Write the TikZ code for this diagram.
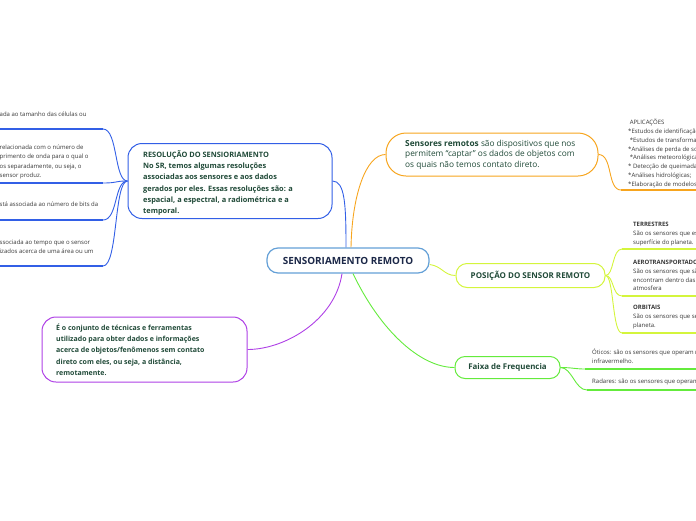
\documentclass[tikz,border=0pt]{standalone}
\usepackage{fontspec}
\setmainfont{Open Sans}
\usetikzlibrary{calc}
\definecolor{tg}{RGB}{32,74,56}
\definecolor{navy}{RGB}{28,40,72}
\definecolor{cblue}{RGB}{50,95,230}
\definecolor{corange}{RGB}{247,165,30}
\definecolor{cyg}{RGB}{212,245,60}
\definecolor{cgreen}{RGB}{100,235,60}
\definecolor{cpurple}{RGB}{175,65,230}
\definecolor{cls}{RGB}{100,160,215}
\definecolor{sm}{RGB}{55,55,55}
\tikzset{
  boxnode/.style={draw=#1, line width=1pt, fill=white, inner sep=0pt},
  bigtxt/.style={anchor=west, inner sep=0pt, align=left, text=tg, font=\fontsize{7.0}{11.3}\selectfont\bfseries},
  smalltxt/.style={anchor=west, inner sep=0pt, align=left, text=sm, font=\fontsize{6.0}{8.8}\selectfont},
  underl/.style={draw=#1, line width=1.8pt},
  conn/.style={draw=#1, line width=0.9pt}
}
\begin{document}
\begin{tikzpicture}[x=1pt,y=-1pt]
\useasboundingbox (0,0) rectangle (696,520);
\clip (0,0) rectangle (696,520);

% central
\node[boxnode=cls, line width=1.2pt, rounded corners=11pt, minimum width=162pt, minimum height=25pt,
      font=\fontsize{9.9}{10}\selectfont\bfseries, text=navy] (root) at (348,260.5) {SENSORIAMENTO REMOTO};

% blue box
\node[boxnode=cblue, rounded corners=14pt, minimum width=204pt, minimum height=75pt] (bres) at (230,181) {};
\node[bigtxt, font=\fontsize{7.4}{11.3}\selectfont\bfseries] (tres) at (143,183) {RESOLUÇÃO DO SENSIORIAMENTO\\No SR, temos algumas resoluções\\associadas aos sensores e aos dados\\gerados por eles. Essas resoluções são: a\\espacial, a espectral, a radiométrica e a\\temporal.};

% orange pill
\node[boxnode=corange, rounded corners=20pt, minimum width=212pt, minimum height=43pt] (bor) at (492,154.5) {};
\node[anchor=west, inner sep=0pt, align=left, text=tg, font=\fontsize{8.3}{10.6}\selectfont] (tor) at (405,154.5)
  {\textbf{Sensores remotos} são dispositivos que nos\\permitem “captar” os dados de objetos com\\os quais não temos contato direto.};

% purple box
\node[boxnode=cpurple, rounded corners=14pt, minimum width=205pt, minimum height=65pt] (bpur) at (144.5,349.5) {};
\node[bigtxt] (tpur) at (56,349.5) {É o conjunto de técnicas e ferramentas\\utilizado para obter dados e informações\\acerca de objetos/fenômenos sem contato\\direto com eles, ou seja, a distância,\\remotamente.};

% posição
\node[boxnode=cyg, rounded corners=11pt, minimum width=149pt, minimum height=24pt,
      font=\fontsize{8.0}{9}\selectfont\bfseries, text=tg] (bpos) at (530.5,275.5) {POSIÇÃO DO SENSOR REMOTO};

% faixa
\node[boxnode=cgreen, rounded corners=10pt, minimum width=105pt, minimum height=22pt,
      font=\fontsize{7.9}{9}\selectfont\bfseries, text=tg] (bfx) at (507.5,367.5) {Faixa de Frequencia};

% main connectors
\draw[conn=cblue] ($(root.north)+(-2,0)$) .. controls (346,205) and (345,181) .. (bres.east);
\draw[conn=corange] ($(root.north)+(3,0)$) .. controls (352,195) and (366,154.5) .. (bor.west);
\draw[conn=cpurple] ($(root.south)+(-6,0)$) .. controls (335,320) and (285,349.5) .. (bpur.east);
\draw[conn=cgreen] ($(root.south)+(5,0)$) .. controls (380,330) and (420,367.5) .. (bfx.west);
\draw[conn=cyg] ($(root.east)+(0,4)$) .. controls (442,266) and (444,275.5) .. (bpos.west);

% left items
\coordinate (l1a) at (0,129); \coordinate (l1b) at (103,129);
\coordinate (l2a) at (0,183); \coordinate (l2b) at (103,183);
\coordinate (l3a) at (0,220); \coordinate (l3b) at (103,220);
\coordinate (l4a) at (0,266); \coordinate (l4b) at (103,266);
\node[smalltxt] (ti1) at (-0.5,114) {ada ao tamanho das células ou};
\node[smalltxt, font=\fontsize{6.0}{9.3}\selectfont] (ti2) at (-0.5,162) {relacionada com o número de\\primento de onda para o qual o\\os separadamente, ou seja, o\\sensor produz.};
\node[smalltxt] (ti3) at (-0.5,204) {stá associada ao número de bits da};
\node[smalltxt] (ti4) at (-0.5,246.5) {ssociada ao tempo que o sensor\\izados acerca de uma área ou um};
\foreach \i in {1,2,3,4}{
  \draw[underl=cblue] (l\i a) -- (l\i b);
  \draw[conn=cblue] (l\i b) .. controls ($(l\i b)+(15,0)$) and (114,181) .. (bres.west);
}

% orange applications
\coordinate (apa) at (621,190); \coordinate (apb) at (697,190);
\node[smalltxt] (tap) at (628,153.5) {\ APLICAÇÕES\\*Estudos de identificação\\\ *Estudos de transformação\\*Análises de perda de solo\\\ *Análises meteorológicas\\* Detecção de queimadas\\*Análises hidrológicas;\\*Elaboração de modelos};
\draw[underl=corange] (apa) -- (apb);
\draw[conn=corange] (bor.east) .. controls (613,154.5) and (607,190) .. (apa);

% posição items
\coordinate (p1a) at (622,249); \coordinate (p1b) at (697,249);
\coordinate (p2a) at (622,296); \coordinate (p2b) at (697,296);
\coordinate (p3a) at (622,333); \coordinate (p3b) at (697,333);
\node[smalltxt] (tp1) at (633,234) {\textbf{TERRESTRES}\\São os sensores que estão\\superfície do planeta.};
\node[smalltxt] (tp2) at (633,275.5) {\textbf{AEROTRANSPORTADOS}\\São os sensores que são\\encontram dentro das\\atmosfera};
\node[smalltxt] (tp3) at (633,317) {\textbf{ORBITAIS}\\São os sensores que se\\planeta.};
\foreach \i in {1,2,3}{
  \draw[underl=cyg] (p\i a) -- (p\i b);
  \draw[conn=cyg] (bpos.east) .. controls (614,275.5) and (612,0|-p\i a) .. (p\i a);
}

% faixa items
\coordinate (f1a) at (585,369); \coordinate (f1b) at (697,369);
\coordinate (f2a) at (587,390); \coordinate (f2b) at (697,390);
\node[smalltxt] (tf1) at (592,356.5) {Óticos: são os sensores que operam na\\infravermelho.};
\node[smalltxt] (tf2) at (592,382) {Radares: são os sensores que operam};
\foreach \i in {1,2}{
  \draw[underl=cgreen] (f\i a) -- (f\i b);
}
\draw[conn=cgreen] (bfx.east) .. controls (572,367.5) and (575,369) .. (f1a);
\draw[conn=cgreen] (bfx.east) .. controls (572,367.5) and (575,390) .. (f2a);
\end{tikzpicture}
\end{document}
